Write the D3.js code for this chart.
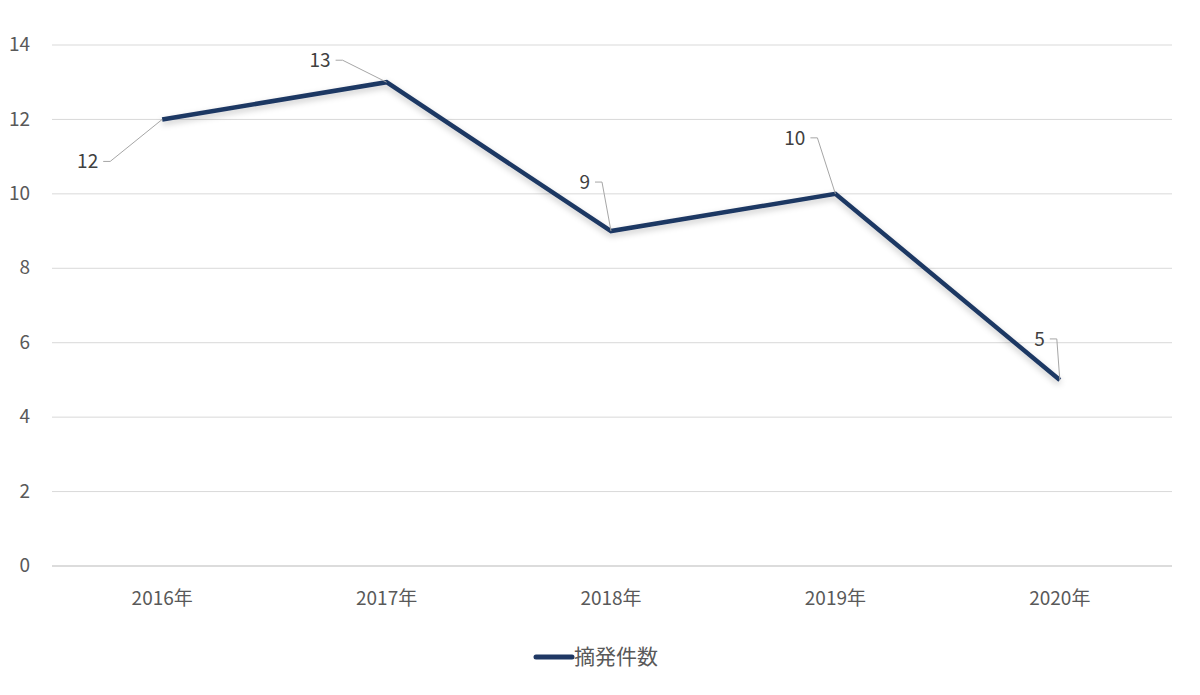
<!DOCTYPE html>
<html>
<head>
<meta charset="utf-8">
<script src="https://cdn.jsdelivr.net/npm/d3@7"></script>
<style>
  body { margin: 0; background: #fff; }
  svg text { font-family: "Noto Sans CJK JP", "Noto Sans", sans-serif; fill: #595959; }
</style>
</head>
<body>
<svg id="chart" width="1200" height="695"></svg>
<script>
// data
const years = ["2016年", "2017年", "2018年", "2019年", "2020年"]
const counts = [12, 13, 9, 10, 5]
const yTicks = [0, 2, 4, 6, 8, 10, 12, 14]
const seriesName = "摘発件数"

// where each data label sits relative to its point (label leader lines)
const labelOffsets = [
    { dx: -59, dy: 42 },
    { dx: -51, dy: -22 },
    { dx: -16, dy: -49 },
    { dx: -25, dy: -56 },
    { dx: -10, dy: -41 }
]

const width = 1200, height = 695
const margin = { left: 52, right: 28, top: 45, bottom: 129 }

const svg = d3.select('#chart')

const x = d3.scaleBand()
    .domain(years)
    .range([margin.left - 2, width - margin.right])

const y = d3.scaleLinear()
    .domain([0, 14])
    .range([height - margin.bottom, margin.top])

// gridlines
svg.append('g')
    .selectAll('line')
    .data(yTicks)
    .join('line')
    .attr('x1', margin.left)
    .attr('x2', width - margin.right)
    .attr('y1', d => y(d))
    .attr('y2', d => y(d))
    .attr('stroke', d => d == 0 ? '#d0d0d0' : '#d9d9d9')
    .attr('stroke-width', d => d == 0 ? 1.5 : 1)

// y axis labels
const yAxis = svg.append('g')
    .attr('transform', `translate(${margin.left - 22},0)`)
    .call(d3.axisLeft(y).tickValues(yTicks).tickSize(0).tickPadding(0))
yAxis.select('.domain').remove()
yAxis.selectAll('text')
    .attr('font-size', '19px')
    .attr('fill', '#595959')
    .attr('dy', '0.3em')

// x axis labels
const xAxis = svg.append('g')
    .attr('transform', `translate(0,${y(0)})`)
    .call(d3.axisBottom(x).tickSize(0).tickPadding(26))
xAxis.select('.domain').remove()
xAxis.selectAll('text')
    .attr('font-size', '19px')
    .attr('fill', '#595959')

const cx = (d, i) => x(years[i]) + x.bandwidth() / 2
const points = counts.map((v, i) => ({ v, px: cx(v, i), py: y(v), off: labelOffsets[i] }))

// shadow under the line
const shadow = svg.append('defs').append('filter')
    .attr('id', 'shadow')
    .attr('x', '-10%').attr('y', '-10%')
    .attr('width', '120%').attr('height', '130%')
shadow.append('feDropShadow')
    .attr('dx', 0).attr('dy', 3)
    .attr('stdDeviation', 3)
    .attr('flood-color', '#000')
    .attr('flood-opacity', 0.22)

const line = d3.line()
    .x(d => d.px)
    .y(d => d.py)

svg.append('path')
    .datum(points)
    .attr('d', line)
    .attr('fill', 'none')
    .attr('stroke', '#1f3864')
    .attr('stroke-width', 4.5)
    .attr('stroke-linejoin', 'miter')
    .attr('filter', 'url(#shadow)')

// data labels with leader lines
const labels = svg.append('g')
labels.selectAll('path')
    .data(points)
    .join('path')
    .attr('d', d => {
        let lx = d.px + d.off.dx
        let ly = d.py + d.off.dy
        return `M${lx},${ly}H${lx + 7}L${d.px},${d.py}`
    })
    .attr('fill', 'none')
    .attr('stroke', '#a6a6a6')
    .attr('stroke-width', 1)

labels.selectAll('text')
    .data(points)
    .join('text')
    .attr('x', d => d.px + d.off.dx - 5)
    .attr('y', d => d.py + d.off.dy)
    .attr('dy', '0.35em')
    .attr('text-anchor', 'end')
    .attr('font-size', '19px')
    .style('fill', '#404040')
    .text(d => d.v)

// legend
const legend = svg.append('g').attr('transform', 'translate(536,657)')
legend.append('line')
    .attr('x1', 0).attr('x2', 36)
    .attr('y1', 0).attr('y2', 0)
    .attr('stroke', '#1f3864')
    .attr('stroke-width', 5)
    .attr('stroke-linecap', 'round')
legend.append('text')
    .attr('x', 38)
    .attr('dy', '0.35em')
    .attr('font-size', '21px')
    .text(seriesName)
</script>
</body>
</html>
